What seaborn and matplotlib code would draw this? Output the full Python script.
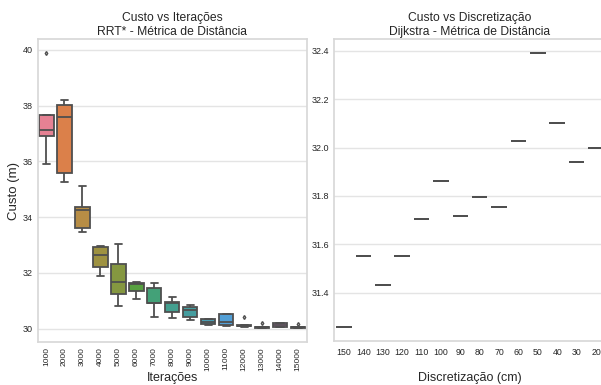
import matplotlib
matplotlib.use("Agg")
import matplotlib.pyplot as plt
import seaborn as sns
import pandas as pd

# RRT* runs: cost samples per iteration budget
iteracoes = [1000, 2000, 3000, 4000, 5000, 6000, 7000, 8000,
             9000, 10000, 11000, 12000, 13000, 14000, 15000]
custo_rrt = [
    [35.90, 36.91, 37.13, 37.68, 39.89],
    [35.25, 35.58, 37.59, 38.04, 38.20],
    [33.45, 33.62, 34.27, 34.36, 35.10],
    [31.87, 32.22, 32.65, 32.92, 32.96],
    [30.80, 31.23, 31.68, 32.31, 33.02],
    [31.07, 31.34, 31.60, 31.62, 31.68],
    [30.41, 30.92, 30.93, 31.46, 31.64],
    [30.37, 30.59, 30.91, 30.95, 31.13],
    [30.31, 30.41, 30.67, 30.78, 30.83],
    [30.13, 30.17, 30.25, 30.33, 30.35],
    [30.10, 30.11, 30.22, 30.51, 30.52],
    [30.04, 30.08, 30.10, 30.13, 30.41],
    [30.02, 30.03, 30.05, 30.07, 30.18],
    [30.04, 30.06, 30.12, 30.19, 30.20],
    [30.02, 30.03, 30.05, 30.06, 30.16],
]

# Dijkstra: cost per grid discretization (cm)
discretizacao = [150, 140, 130, 120, 110, 100, 90, 80, 70, 60, 50, 40, 30, 20]
custo_dijkstra = [31.258, 31.551, 31.434, 31.553, 31.703, 31.860, 31.716,
                  31.795, 31.753, 32.025, 32.390, 32.100, 31.942, 32.000]

df_rrt = pd.DataFrame({
    "Iterações": [str(it) for it, vals in zip(iteracoes, custo_rrt) for _ in vals],
    "Custo": [v for vals in custo_rrt for v in vals],
})
df_dij = pd.DataFrame({
    "Discretização": [str(d) for d in discretizacao],
    "Custo": custo_dijkstra,
})

sns.set_theme(style="whitegrid", rc={"grid.color": "#e4e4e4", "axes.edgecolor": "#d8d8d8"})
plt.rcParams["font.family"] = ["Liberation Sans", "DejaVu Sans"]

W, H = 601, 385
fig = plt.figure(figsize=(W / 100, H / 100), dpi=100)
l1, b1, r1, t1 = 37.5, 341.7, 307.0, 39.3
l2, b2, r2, t2 = 334.3, 341.0, 605.7, 39.3
ax1 = fig.add_axes([l1 / W, 1 - b1 / H, (r1 - l1) / W, (b1 - t1) / H])
ax2 = fig.add_axes([l2 / W, 1 - b2 / H, (r2 - l2) / W, (b2 - t2) / H])

order_it = [str(i) for i in iteracoes]
sns.boxplot(data=df_rrt, x="Iterações", y="Custo", hue="Iterações",
            order=order_it, hue_order=order_it, palette="husl",
            saturation=0.75, linecolor="#4f4f4f", linewidth=1.3,
            fliersize=2, flierprops={"marker": "d"},
            legend=False, ax=ax1)
ax1.set_title("Custo vs Iterações\nRRT* - Métrica de Distância", fontsize=8.7, pad=3)
ax1.set_xlabel("Iterações", fontsize=9)
ax1.set_ylabel("Custo (m)", fontsize=9.5)
ax1.xaxis.set_label_coords(0.5, -(371.5 - b1) / (b1 - t1))
ax1.yaxis.set_label_coords(-(l1 - 20.0) / (r1 - l1), 0.5)
ax1.tick_params(axis="x", labelrotation=90, labelsize=6, pad=4, length=0)
ax1.tick_params(axis="y", labelsize=6.5, pad=3.5, length=0)

order_d = [str(d) for d in discretizacao]
sns.boxplot(data=df_dij, x="Discretização", y="Custo", order=order_d,
            color="#888888", linecolor="#4f4f4f", linewidth=1.3, ax=ax2)
ax2.set_title("Custo vs Discretização\nDijkstra - Métrica de Distância", fontsize=8.7, pad=3)
ax2.set_xlabel("Discretização (cm)", fontsize=9)
ax2.xaxis.set_label_coords(0.5, -(371.5 - b2) / (b2 - t2))
ax2.set_ylabel("")
ax2.tick_params(axis="x", labelsize=6.3, pad=5, length=0)
ax2.tick_params(axis="y", labelsize=6.5, pad=3.5, length=0)

fig.savefig("out.png", dpi=100)
